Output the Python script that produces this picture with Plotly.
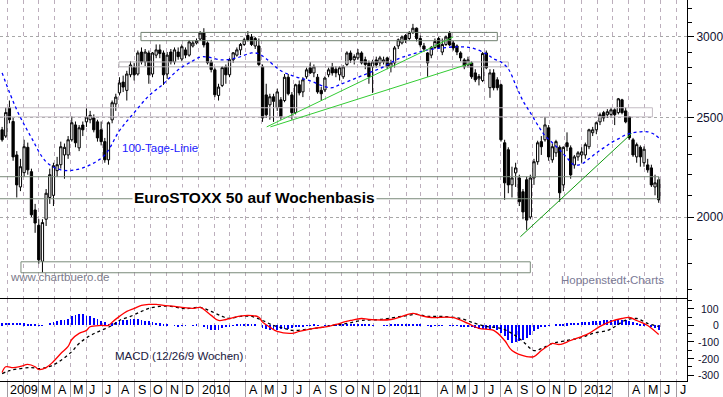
import plotly.graph_objects as go
import pandas as pd

# ---------------- data ----------------
week_start = "2008-12-22"   # Monday of first weekly candle
opens = [2434,2400,2560,2480,2300,2140,2210,2340,2215,2032,1963,1810,1990,2090,2100,2220,2250,2300,2300,2380,
         2461,2337,2460,2478,2490,2500,2478,2434,2370,2275,2489,2580,2645,2710,2660,2755,2800,2760,2900,2836,
         2894,2760,2880,2914,2894,2760,2900,2836,2900,2855,2914,2880,2940,2960,2986,3027,2960,2836,2786,2630,
         2690,2805,2755,2850,2880,2914,2950,3010,3000,2940,2940,2805,2633,2575,2622,2558,2604,2600,2740,2633,
         2530,2694,2651,2743,2799,2767,2740,2660,2663,2755,2805,2790,2755,2743,2820,2894,2850,2862,2894,2850,
         2830,2805,2849,2830,2836,2862,2805,2830,2940,2960,3010,2990,3030,3060,2990,2940,2894,2880,2930,2990,
         2900,2950,3025,2960,2940,2894,2849,2817,2830,2767,2730,2720,2894,2676,2767,2724,2694,2364,2327,2150,
         2209,2184,2117,2175,2000,2184,2265,2370,2380,2445,2275,2311,2340,2150,2364,2337,2249,2290,2300,2300,
         2343,2418,2434,2478,2530,2518,2520,2546,2530,2604,2540,2506,2380,2290,2340,2260,2249,2234,2140,2175]
highs = [2450,2560,2600,2500,2320,2280,2380,2365,2230,2060,1990,1990,2130,2230,2260,2290,2370,2360,2400,2510,
         2480,2460,2480,2555,2540,2520,2490,2480,2390,2480,2600,2640,2740,2750,2780,2840,2830,2910,2930,2920,
         2910,2900,2950,2950,2910,2900,2920,2930,2930,2950,2930,2980,2975,2990,3040,3060,2970,2850,2800,2700,
         2810,2820,2860,2900,2930,2960,2995,3040,3020,3000,2990,2820,2700,2640,2640,2670,2620,2760,2760,2650,
         2700,2720,2740,2800,2836,2820,2760,2680,2745,2800,2830,2810,2810,2815,2905,2910,2885,2920,2905,2870,
         2845,2850,2870,2875,2870,2870,2850,2940,2990,3010,3020,3040,3090,3065,3010,2960,2900,2940,2990,3000,
         2990,3010,3040,2975,2950,2905,2860,2870,2840,2790,2760,2900,2910,2790,2790,2740,2700,2380,2340,2240,
         2260,2200,2130,2190,2200,2280,2375,2400,2506,2460,2360,2380,2350,2345,2420,2350,2300,2320,2340,2365,
         2440,2450,2480,2530,2540,2550,2560,2555,2615,2610,2560,2510,2390,2365,2350,2345,2280,2250,2200,2190]
lows = [2370,2390,2470,2270,2090,2120,2190,2200,2000,1930,1800,1765,1960,2060,2050,2190,2230,2180,2280,2370,
        2340,2320,2400,2450,2470,2420,2370,2350,2260,2250,2470,2540,2630,2650,2600,2740,2720,2750,2820,2810,
        2700,2740,2860,2860,2693,2730,2820,2820,2850,2840,2860,2870,2930,2950,2975,2930,2820,2770,2620,2600,
        2680,2700,2740,2830,2870,2880,2940,2970,2940,2920,2810,2478,2500,2490,2478,2540,2490,2590,2630,2490,
        2520,2630,2620,2730,2760,2740,2640,2600,2650,2740,2750,2740,2720,2730,2810,2830,2820,2850,2820,2790,
        2700,2645,2800,2810,2820,2790,2770,2800,2920,2950,2960,2980,3020,2970,2930,2900,2743,2860,2920,2920,
        2880,2940,2940,2910,2880,2840,2790,2800,2730,2710,2690,2710,2790,2616,2660,2660,2370,2079,2110,2090,
        2140,2050,1990,1943,1990,2150,2250,2300,2370,2270,2260,2290,2070,2120,2320,2180,2230,2270,2260,2280,
        2330,2400,2410,2460,2480,2500,2500,2460,2520,2520,2470,2380,2290,2260,2240,2240,2210,2140,2100,2065]
closes = [2380,2530,2490,2290,2150,2240,2343,2224,2010,1973,1816,1975,2110,2200,2245,2250,2343,2340,2380,2473,
          2364,2445,2434,2505,2515,2434,2390,2370,2275,2473,2587,2620,2705,2680,2760,2817,2755,2894,2836,2900,
          2755,2894,2914,2890,2755,2880,2836,2914,2870,2935,2880,2967,2960,2975,3027,2947,2831,2788,2634,2680,
          2800,2755,2850,2895,2914,2950,2981,2981,2950,2990,2820,2500,2518,2622,2595,2651,2506,2740,2640,2530,
          2694,2645,2724,2786,2767,2805,2651,2640,2735,2786,2767,2767,2799,2805,2894,2849,2870,2894,2830,2820,
          2743,2836,2817,2862,2849,2805,2830,2927,2981,3000,2981,3030,3060,2990,2947,2920,2830,2930,2970,2930,
          2950,3000,2947,2927,2900,2862,2805,2849,2743,2724,2745,2890,2799,2767,2676,2676,2380,2160,2150,2184,
          2234,2070,2023,1986,2184,2265,2364,2343,2461,2290,2343,2370,2112,2340,2343,2199,2290,2311,2316,2354,
          2434,2434,2473,2518,2500,2535,2546,2518,2610,2530,2478,2391,2300,2354,2290,2330,2224,2150,2160,2079]

# 100-Tage-Linie (sampled at candle weeks)
ma_idx = [0,4,8,12,16,20,24,28,32,36,40,44,48,52,54,56,60,64,68,70,72,76,80,84,88,90,92,96,100,104,
          108,112,116,120,124,128,132,134,136,138,140,142,144,146,148,150,152,154,156,158,160,162,164,166,
          168,170,172,174,176,178,179]
ma_vals = [2767,2546,2391,2265,2224,2224,2249,2300,2429,2530,2627,2700,2786,2843,2868,2868,2849,2862,2894,2888,
           2856,2780,2743,2718,2682,2676,2694,2730,2767,2805,2856,2888,2914,2927,2934,2927,2888,2856,2836,2792,
           2694,2598,2530,2461,2402,2364,2327,2285,2249,2254,2280,2311,2337,2364,2385,2407,2418,2423,2423,2407,2391]

# MACD (12/26/9) line, signal line, histogram
macd_idx = [0,1,3,5,7,9,10,12,14,16,18,19,21,23,24,27,29,30,32,34,36,38,40,42,44,47,49,52,54,57,59,61,63,67,70,
            71,73,75,79,81,85,89,91,95,98,100,106,109,112,114,117,123,127,130,134,137,139,143,145,147,149,150,
            152,155,158,160,163,166,169,171,173,176,179]
macd_vals = [-285,-250,-255,-248,-236,-250,-267,-255,-218,-170,-127,-85,-48,-30,-8,0,0,20,55,85,103,121,127,127,
             121,115,109,103,109,61,30,36,48,61,50,20,-10,-36,-48,-36,-18,-6,6,30,42,36,36,55,73,61,48,48,12,-18,
             -30,-91,-152,-188,-188,-152,-121,-109,-115,-91,-67,-48,-6,24,42,48,30,0,-55]
sig_idx = [0,2,5,8,10,13,16,19,21,24,27,30,32,35,38,40,43,46,49,51,54,57,60,62,65,68,71,74,77,79,83,87,90,94,98,
           103,109,113,116,120,125,129,132,136,139,142,145,147,150,154,158,161,165,167,170,173,176,179]
sig_vals = [-291,-273,-261,-255,-261,-248,-212,-158,-109,-61,-30,0,30,55,85,103,115,115,103,103,109,85,55,42,55,
            55,30,0,-18,-30,-24,-12,0,12,30,36,55,67,55,55,42,12,-6,-18,-48,-97,-152,-140,-109,-91,-73,-48,-30,
            -8,32,42,12,-6]
hist = [12,14,16,15,14,13,12,10,8,6, 2,-3,0, 15,22,28,33,36,40, 55,65,70,68,60,55, 48,38,28,18,10,12,
        20,25,30,35,38,40,38,33, 28,24,20,17,12,6,3, 0,-3,-4,-3,-2,0,2,3, 0,-10,-22, -26,-28,-25,-18,-10,-5,
        2,4,6,7,6,5,3,0, -15,-22,-25,-26,-25,-24,-22,-20, -16,-12,-8,-5,-2,2,3,2,0,-2,-1,2,
        5,7,8,9,10,9,8,7,5,3, 1,0,0,1,2,3,4,5, 6,7,8,7,5,3, 0,-3,-4,-3,-2,-1,0,-1,-2,-3,-4,-5,
        -8,-12,-16,-20,-23,-22,-20,-18,-25, -45,-61,-85,-104,-100,-92,-85,-78,-60,-36, -20,-12,-6,-3,0,
        5,8,10,12,14,15,17,18,20,22,24,26,28,30,32, 34,36,36,34,30,25,20,15,10,5,0,-5,-15,-25]

# trend lines and boxes (dates, index levels)
trend_a = (["2010-05-11", "2011-05-02"], [2450, 3000])
trend_b = (["2010-05-18", "2011-06-07"], [2450, 2830])
trend_c = (["2011-09-07", "2012-04-06"], [1913, 2413])
boxes = [  # x0, x1, low, high, colour
    ("2009-09-13", "2011-07-25", 2975, 3031, "#6f7f6f"),
    ("2009-08-02", "2011-08-15", 2805, 2836, "#b4b0b4"),
    ("2008-12-10", "2012-05-16", 2506, 2558, "#c4bcc4"),
    ("2008-12-10", "2012-05-28", 2084, 2190, "#7a8a7a"),
    ("2009-01-27", "2011-09-26", 1764, 1808, "#7a8a7a"),
]

label_dates = ["2009-01-01","2009-03-01","2009-04-01","2009-05-01","2009-06-01","2009-07-01","2009-08-01",
               "2009-09-01","2009-10-01","2009-11-01","2009-12-01","2010-01-01","2010-04-01","2010-05-01",
               "2010-06-01","2010-07-01","2010-08-01","2010-09-01","2010-10-01","2010-11-01","2010-12-01",
               "2011-01-01","2011-04-01","2011-05-01","2011-06-01","2011-07-01","2011-08-01","2011-09-01",
               "2011-10-01","2011-11-01","2011-12-01","2012-01-01","2012-04-01","2012-05-01","2012-06-01",
               "2012-07-01"]
label_texts = ["2009","M","A","M","J","J","A","S","O","N","D","2010","A","M","J","J","A","S","O","N","D",
               "2011","A","M","J","J","A","S","O","N","D","2012","A","M","J","J"]
main_ticks = [2000, 2500, 3000]
macd_ticks = [100, 0, -100, -200, -300]

# ---------------- figure ----------------
weeks = pd.date_range(week_start, periods=len(closes), freq="7D")
FONT = "Liberation Sans, Arial, sans-serif"

fig = go.Figure()

for x0, x1, lo, hi, col in boxes:
    fig.add_trace(go.Scatter(x=[x0, x1, x1, x0, x0], y=[lo, lo, hi, hi, lo], mode="lines",
                             line=dict(color=col, width=1), hoverinfo="skip", showlegend=False,
                             xaxis="x", yaxis="y"))

fig.add_trace(go.Candlestick(
    x=weeks, open=opens, high=highs, low=lows, close=closes,
    increasing=dict(line=dict(color="black", width=1), fillcolor="white"),
    decreasing=dict(line=dict(color="black", width=1), fillcolor="black"),
    whiskerwidth=0, showlegend=False, hoverinfo="skip", xaxis="x", yaxis="y"))

fig.add_trace(go.Scatter(x=[weeks[i] for i in ma_idx], y=ma_vals, mode="lines",
                         line=dict(color="#0000ff", width=1.3, dash="3px,3px", shape="spline"),
                         hoverinfo="skip", showlegend=False, xaxis="x", yaxis="y"))

for (tx, ty), col in [(trend_a, "#33cc33"), (trend_b, "#33cc33"), (trend_c, "#109a10")]:
    fig.add_trace(go.Scatter(x=tx, y=ty, mode="lines", line=dict(color=col, width=1),
                             hoverinfo="skip", showlegend=False, xaxis="x", yaxis="y"))

# MACD panel
fig.add_trace(go.Bar(x=weeks, y=hist, width=1.5e8, marker=dict(color="#0000ff", line=dict(width=0)),
                     hoverinfo="skip", showlegend=False, xaxis="x2", yaxis="y2"))
fig.add_trace(go.Scatter(x=[weeks[i] for i in sig_idx], y=sig_vals, mode="lines",
                         line=dict(color="black", width=1.3, dash="3px,3px", shape="spline"),
                         hoverinfo="skip", showlegend=False, xaxis="x2", yaxis="y2"))
fig.add_trace(go.Scatter(x=[weeks[i] for i in macd_idx], y=macd_vals, mode="lines",
                         line=dict(color="#ff0000", width=1.3, shape="spline"),
                         hoverinfo="skip", showlegend=False, xaxis="x2", yaxis="y2"))

PLOT_H = 381.0
xr = ["2008-12-18", "2012-07-21"]
grid = dict(showgrid=True, gridcolor="#bcaebc", gridwidth=1, griddash="4px,4px",
            dtick="M1", tick0="2009-01-01")

annotations = []
for d, t in zip(label_dates, label_texts):
    annotations.append(dict(x=d, y=-8.5 / PLOT_H, xref="x", yref="paper", text=t, showarrow=False,
                            xanchor="left", yanchor="middle", xshift=1,
                            font=dict(family=FONT, size=12.5, color="#000000")))
for v in macd_ticks:
    annotations.append(dict(x=1.0, y=v, xref="paper", yref="y2", text=str(v), showarrow=False,
                            xanchor="right", yanchor="middle", xshift=34,
                            font=dict(family=FONT, size=10.5, color="#101030")))
annotations += [
    dict(x=255 / 687, y=1 - 197 / PLOT_H, xref="paper", yref="paper",
         text="<b>EuroSTOXX 50 auf Wochenbasis</b>", showarrow=False, bgcolor="white", borderpad=1,
         font=dict(family=FONT, size=15.5, color="black")),
    dict(x=120 / 687, y=1 - 148 / PLOT_H, xref="paper", yref="paper", xanchor="left",
         text="100-Tage-Linie", showarrow=False, font=dict(family=FONT, size=11.5, color="#1a1aff")),
    dict(x=8 / 687, y=1 - 285 / PLOT_H, xref="paper", yref="paper", xanchor="left",
         text="www.chartbuero.de", showarrow=False, font=dict(family=FONT, size=11.5, color="#7a7a8a")),
    dict(x=559 / 687, y=1 - 288 / PLOT_H, xref="paper", yref="paper", xanchor="left",
         text="Hoppenstedt-Charts", showarrow=False, font=dict(family=FONT, size=11.5, color="#7a7a96")),
    dict(x=113 / 687, y=1 - 364 / PLOT_H, xref="paper", yref="paper", xanchor="left",
         text="MACD (12/26/9 Wochen)", showarrow=False, font=dict(family=FONT, size=11.5, color="#202040")),
]

fig.update_layout(
    width=723, height=397, margin=dict(l=0, r=36, t=0, b=16),
    paper_bgcolor="white", plot_bgcolor="white", bargap=0, boxgap=0.12,
    font=dict(family=FONT, size=12, color="#101030"),
    xaxis=dict(type="date", range=xr, domain=[0, 1], anchor="y", showticklabels=False, ticks="",
               showline=True, linecolor="black", linewidth=1, rangeslider=dict(visible=False),
               zeroline=False, **grid),
    yaxis=dict(type="log", range=[3.2218, 3.5133], domain=[1 - 298 / PLOT_H, 1], side="right",
               anchor="x", showline=True, linecolor="black", linewidth=1,
               tickvals=main_ticks, ticktext=[str(v) for v in main_ticks], ticks="outside", ticklen=6,
               tickcolor="black", tickfont=dict(family=FONT, size=12, color="#101030"),
               showgrid=True, gridcolor="#a8a8a8", griddash="3px,3px", zeroline=False,
               minor=dict(tickvals=[1700, 1800, 1900, 2100, 2200, 2300, 2400, 2600, 2700, 2800, 2900, 3100, 3200],
                          ticks="outside", ticklen=4, tickcolor="black", showgrid=False)),
    xaxis2=dict(type="date", range=xr, domain=[0, 1], anchor="y2", matches="x", showticklabels=False,
                ticks="outside", ticklen=16, tickcolor="#a09aa0", showline=True, linecolor="black",
                linewidth=1, zeroline=False, **grid),
    yaxis2=dict(range=[-336, 160], domain=[0, 1 - 299 / PLOT_H], side="right", anchor="x2",
                showline=True, linecolor="black", linewidth=1, tickvals=macd_ticks, ticks="outside",
                ticklen=6, tickcolor="black", showticklabels=False, showgrid=False, zeroline=False,
                minor=dict(tickvals=[150, 50, -50, -150, -250], ticks="outside", ticklen=4,
                           tickcolor="black", showgrid=False)),
    annotations=annotations,
)

fig.write_html("out.html", config={"displayModeBar": False},
               post_script="document.body.style.margin='0';document.body.style.padding='0';")
